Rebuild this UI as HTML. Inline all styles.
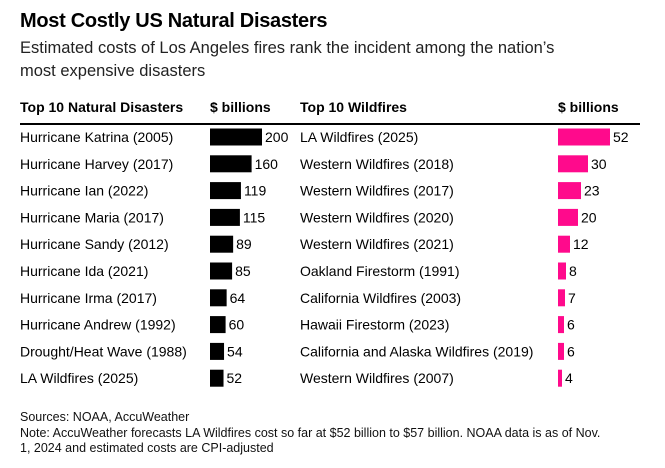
<!DOCTYPE html>
<html><head><meta charset="utf-8"><style>
body{margin:0;width:665px;height:468px;background:#fff;font-family:"Liberation Sans",sans-serif;color:#000;position:relative;overflow:hidden}
.t{position:absolute;white-space:nowrap}
</style></head><body>
<div class="t" style="left:20px;top:10px;font-size:20px;font-weight:bold;letter-spacing:-0.3px">Most Costly US Natural Disasters</div>
<div class="t" style="left:20px;top:37px;font-size:16.5px;line-height:23px;color:#222">Estimated costs of Los Angeles fires rank the incident among the nation’s<br>most expensive disasters</div>
<svg id="c" width="665" height="468" style="position:absolute;left:0;top:0"></svg>
<div class="t" style="left:20px;top:410px;font-size:12.5px;line-height:15.5px;color:#111">Sources: NOAA, AccuWeather<br>Note: AccuWeather forecasts LA Wildfires cost so far at $52 billion to $57 billion. NOAA data is as of Nov.<br>1, 2024 and estimated costs are CPI-adjusted</div>
<script>
const leftNames=["Hurricane Katrina (2005)","Hurricane Harvey (2017)","Hurricane Ian (2022)","Hurricane Maria (2017)","Hurricane Sandy (2012)","Hurricane Ida (2021)","Hurricane Irma (2017)","Hurricane Andrew (1992)","Drought/Heat Wave (1988)","LA Wildfires (2025)"];
const leftValues=[200,160,119,115,89,85,64,60,54,52];
const rightNames=["LA Wildfires (2025)","Western Wildfires (2018)","Western Wildfires (2017)","Western Wildfires (2020)","Western Wildfires (2021)","Oakland Firestorm (1991)","California Wildfires (2003)","Hawaii Firestorm (2023)","California and Alaska Wildfires (2019)","Western Wildfires (2007)"];
const rightValues=[52,30,23,20,12,8,7,6,6,4];
const NS="http://www.w3.org/2000/svg",svg=document.getElementById('c');
function mk(t,a,txt){const e=document.createElementNS(NS,t);for(const k in a)e.setAttribute(k,a[k]);if(txt!=null)e.textContent=txt;svg.appendChild(e);return e;}
const yRow=i=>137+i*26.8;
const xL=v=>v*0.26, xR=v=>v*1.0;
let h;
h=mk('text',{x:20,y:112,'font-size':14,'font-weight':'bold'},'Top 10 Natural Disasters');


h=mk('text',{x:210,y:112,'font-size':14,'font-weight':'bold'},'$ billions');


h=mk('text',{x:300,y:112,'font-size':14,'font-weight':'bold'},'Top 10 Wildfires');


h=mk('text',{x:558,y:112,'font-size':14,'font-weight':'bold'},'$ billions');


h=mk('rect',{x:20,y:123,width:620,height:2,fill:'#000'});


function table(names,vals,x0,bx,sc,col,side){
 names.forEach((n,i)=>{
  const y=yRow(i);
  let e=mk('text',{x:x0,y:y+5,'font-size':14},n);
  
  
  const w=sc(vals[i]);
  e=mk('rect',{x:bx,y:y-8.5,width:w,height:17,fill:col});
  
  
  e=mk('text',{x:bx+w+3,y:y+5,'font-size':14},vals[i]);
  
  
 });
}
table(leftNames,leftValues,20,210,xL,'#000','disaster');
table(rightNames,rightValues,300,558,xR,'#ff0a8c','wildfire');
</script>
</body></html>
